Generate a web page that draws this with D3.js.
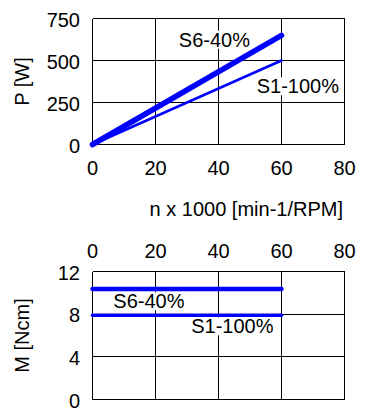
<!DOCTYPE html>
<html>
<head>
<meta charset="utf-8">
<script src="https://cdn.jsdelivr.net/npm/d3@7"></script>
<style>
  html, body { margin: 0; padding: 0; background: #fff; }
  svg { display: block; }
  text { font-family: Arial, "Liberation Sans", sans-serif; fill: #000; }
</style>
</head>
<body>
<script>
// ---- data ----
const speed = [0, 60];                 // n x 1000 [min-1/RPM]
const powerS6 = [0, 650];              // P [W], S6-40%
const powerS1 = [0, 500];              // P [W], S1-100%
const torqueS6 = [10.35, 10.35];       // M [Ncm], S6-40%
const torqueS1 = [7.9, 7.9];           // M [Ncm], S1-100%
const xTicks = [0, 20, 40, 60, 80];
const pTicks = [0, 250, 500, 750];
const mTicks = [0, 4, 8, 12];
const seriesNames = ["S6-40%", "S1-100%"];
const xTitle = "n x 1000 [min-1/RPM]";
const pTitle = "P [W]";
const mTitle = "M [Ncm]";

const W = 381, H = 419;
const svg = d3.select("body").append("svg").attr("width", W).attr("height", H);
const blue = "#0000ff";
const fs = 20;

const x = d3.scaleLinear().domain([0, 80]).range([92.5, 344.5]);
const yP = d3.scaleLinear().domain([0, 750]).range([144.5, 18.5]);
const yM = d3.scaleLinear().domain([0, 12]).range([399.5, 271.5]);

function grid(g, y, yTicks) {
  g.selectAll(".vg").data(xTicks).join("line")
    .attr("x1", d => x(d)).attr("x2", d => x(d))
    .attr("y1", y.range()[0]).attr("y2", y.range()[1])
    .attr("stroke", "#000").attr("stroke-width", 1).attr("shape-rendering", "crispEdges");
  g.selectAll(".hg").data(yTicks).join("line")
    .attr("x1", x.range()[0]).attr("x2", x.range()[1])
    .attr("y1", d => y(d)).attr("y2", d => y(d))
    .attr("stroke", "#000").attr("stroke-width", 1).attr("shape-rendering", "crispEdges");
}

function yLabels(y, ticks) {
  svg.append("g").selectAll("text").data(ticks).join("text")
    .attr("x", 80).attr("y", d => y(d) + 1)
    .attr("dy", "0.36em").attr("text-anchor", "end")
    .attr("font-size", fs).text(d => d);
}

function label(txt, cx, cy, pad) {
  const t = svg.append("text").attr("x", cx).attr("y", cy)
    .attr("text-anchor", "middle").attr("font-size", fs).text(txt);
  const b = t.node().getBBox();
  svg.insert("rect", () => t.node())
    .attr("x", b.x - pad).attr("y", b.y + 2).attr("width", b.width + 2 * pad).attr("height", b.height - 4)
    .attr("fill", "#fff");
}

// ---- top chart: power ----
grid(svg.append("g"), yP, pTicks);
yLabels(yP, pTicks);
svg.append("g").selectAll("text").data(xTicks).join("text")
  .attr("x", d => x(d)).attr("y", 175).attr("text-anchor", "middle")
  .attr("font-size", fs).text(d => d);

const lineP = arr => d3.line().x((d, i) => x(speed[i])).y((d, i) => yP(arr[i]))(arr);
label(seriesNames[0], x(38.7), yP(582), 1);
label(seriesNames[1], x(65.2), yP(305), 1);
svg.append("path").attr("d", lineP(powerS1)).attr("fill", "none")
  .attr("stroke", blue).attr("stroke-width", 2.5).attr("stroke-linecap", "round");
svg.append("path").attr("d", lineP(powerS6)).attr("fill", "none")
  .attr("stroke", blue).attr("stroke-width", 5.5).attr("stroke-linecap", "round");

svg.append("text").attr("x", 343).attr("y", 215.5).attr("text-anchor", "end")
  .attr("font-size", fs).text(xTitle);
svg.append("text").attr("transform", `translate(28.5,${(yP(0) + yP(750)) / 2}) rotate(-90)`)
  .attr("text-anchor", "middle").attr("font-size", fs).text(pTitle);

// ---- bottom chart: torque ----
grid(svg.append("g"), yM, mTicks);
yLabels(yM, mTicks);
svg.append("g").selectAll("text").data(xTicks).join("text")
  .attr("x", d => x(d)).attr("y", 258).attr("text-anchor", "middle")
  .attr("font-size", fs).text(d => d);

const lineM = arr => d3.line().x((d, i) => x(speed[i])).y((d, i) => yM(arr[i]))(arr);
label(seriesNames[0], x(17.9), yM(8.55), 1);
label(seriesNames[1], x(44.4), yM(6.2), 1);
svg.append("path").attr("d", lineM(torqueS1)).attr("fill", "none")
  .attr("stroke", blue).attr("stroke-width", 3.5).attr("stroke-linecap", "round");
svg.append("path").attr("d", lineM(torqueS6)).attr("fill", "none")
  .attr("stroke", blue).attr("stroke-width", 4.5).attr("stroke-linecap", "round");

svg.append("text").attr("transform", `translate(28.5,${(yM(0) + yM(12)) / 2}) rotate(-90)`)
  .attr("text-anchor", "middle").attr("font-size", fs).text(mTitle);
</script>
</body>
</html>
